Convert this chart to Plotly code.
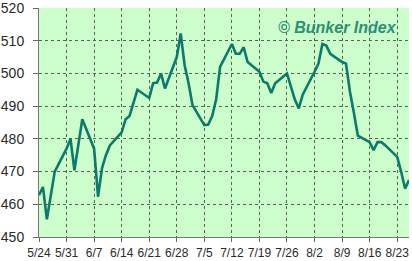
import plotly.graph_objects as go

dates = ["2010-05-24","2010-05-25","2010-05-26","2010-05-27","2010-05-28",
         "2010-05-31","2010-06-01","2010-06-02","2010-06-03","2010-06-04",
         "2010-06-07","2010-06-08","2010-06-09","2010-06-10","2010-06-11",
         "2010-06-14","2010-06-15","2010-06-16","2010-06-17","2010-06-18",
         "2010-06-21","2010-06-22","2010-06-23","2010-06-24","2010-06-25",
         "2010-06-28","2010-06-29","2010-06-30","2010-07-01","2010-07-02",
         "2010-07-05","2010-07-06","2010-07-07","2010-07-08","2010-07-09",
         "2010-07-12","2010-07-13","2010-07-14","2010-07-15","2010-07-16",
         "2010-07-19","2010-07-20","2010-07-21","2010-07-22","2010-07-23",
         "2010-07-26","2010-07-27","2010-07-28","2010-07-29","2010-07-30",
         "2010-08-02","2010-08-03","2010-08-04","2010-08-05","2010-08-06",
         "2010-08-09","2010-08-10","2010-08-11","2010-08-12","2010-08-13",
         "2010-08-16","2010-08-17","2010-08-18","2010-08-19","2010-08-20",
         "2010-08-23","2010-08-24","2010-08-25","2010-08-26"]

index_values = [462.8, 465.3, 455.4, 463, 470,
                477, 480, 470.4, 478, 486,
                477, 462.3, 471, 475, 478,
                482, 486, 487, 491, 495,
                492.5, 497, 497.2, 500, 495.4,
                505, 512.2, 502.5, 497, 490.3,
                484.2, 484.4, 487, 492, 502,
                509, 506, 506, 508, 503.5,
                500.5, 497.5, 497, 494, 497,
                500, 496, 492, 489.3, 493.5,
                500.5, 503, 509, 508.5, 506,
                503.5, 503, 494.4, 488, 481,
                479, 476.5, 479, 479, 478,
                474.5, 470, 464.8, 467.4]

tick_dates = ["2010-05-24","2010-05-31","2010-06-07","2010-06-14","2010-06-21",
              "2010-06-28","2010-07-05","2010-07-12","2010-07-19","2010-07-26",
              "2010-08-02","2010-08-09","2010-08-16","2010-08-23"]
tick_labels = ["5/24","5/31","6/7","6/14","6/21","6/28","7/5","7/12","7/19",
               "7/26","8/2","8/9","8/16","8/23"]
y_ticks = [450, 460, 470, 480, 490, 500, 510, 520]

fig = go.Figure()
fig.add_trace(go.Scatter(x=dates, y=index_values, mode="lines",
                         line=dict(color="#0b7a6b", width=2.6),
                         hoverinfo="skip"))

fig.update_layout(
    width=412, height=261,
    margin=dict(l=39, r=3, t=8, b=24),
    paper_bgcolor="white",
    plot_bgcolor="#ccffcc",
    showlegend=False,
    font=dict(family="Liberation Sans, Arial", color="#333333"),
    annotations=[dict(text="<b><i>© Bunker Index</i></b>", xref="paper", yref="paper",
                      x=0.972, y=0.917, xanchor="right", yanchor="middle",
                      showarrow=False,
                      font=dict(size=16, color="#2f8f75",
                                family="Liberation Sans, Arial"))]
)

fig.update_xaxes(
    type="date",
    range=["2010-05-24", "2010-08-26"],
    tickvals=tick_dates, ticktext=tick_labels,
    tickfont=dict(family="Liberation Sans, Arial", size=12, color="#2a2a2a"),
    ticks="outside", ticklen=4, tickcolor="#666666",
    ticklabelstandoff=1, ticklabeloverflow="allow", automargin=False,
    showline=True, linecolor="#777777", linewidth=1,
    showgrid=True, gridcolor="#4f6b4f", griddash="dot", gridwidth=1,
    zeroline=False,
)
fig.update_yaxes(
    range=[450, 520],
    tickvals=y_ticks, ticktext=[str(v) for v in y_ticks],
    tickfont=dict(family="Liberation Sans, Arial", size=14, color="#2a2a2a"),
    ticks="outside", ticklen=5, tickcolor="#666666",
    ticklabelstandoff=6, ticklabeloverflow="allow", automargin=False,
    showline=True, linecolor="#777777", linewidth=1,
    showgrid=True, gridcolor="#4f6b4f", griddash="dot", gridwidth=1,
    zeroline=False,
)

fig.write_html("out.html")
